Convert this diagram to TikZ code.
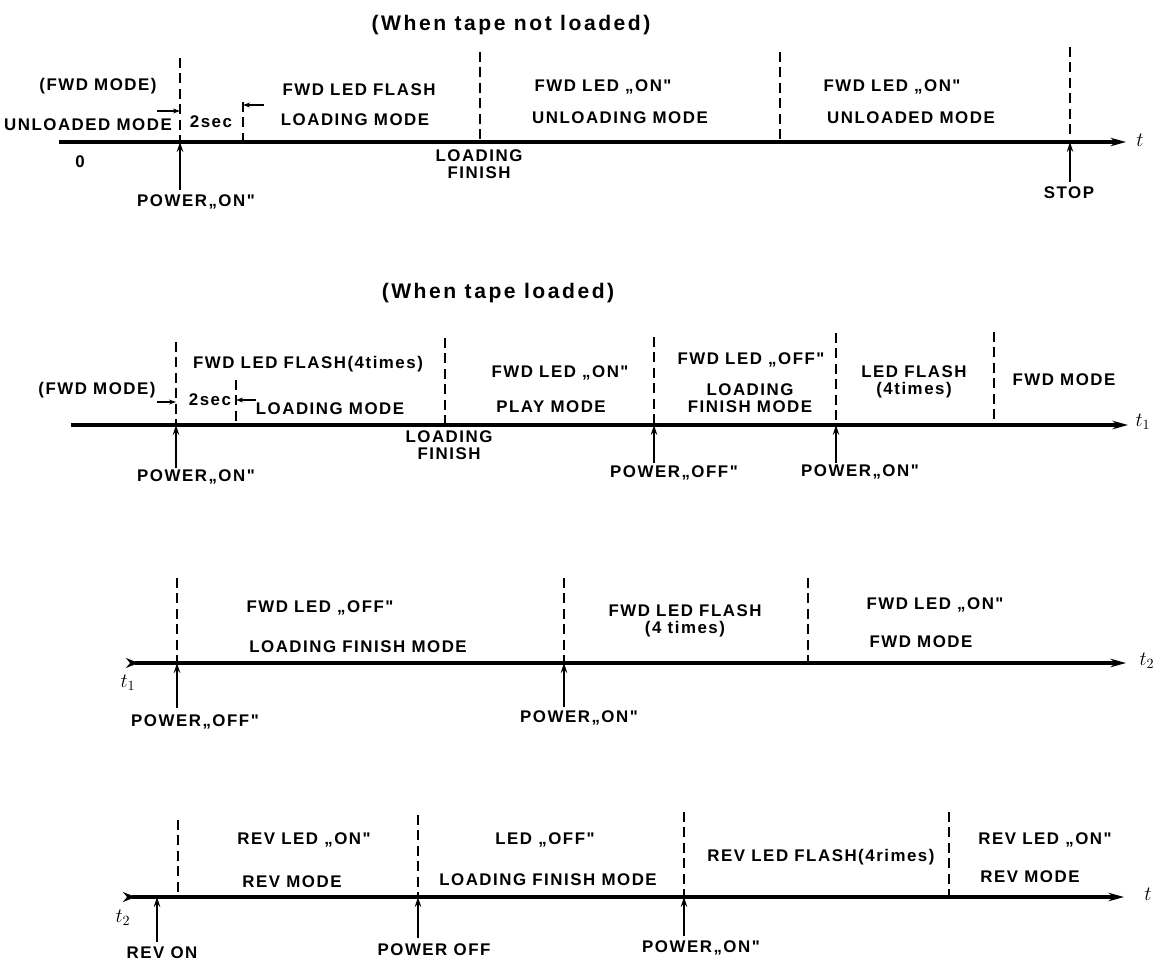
\documentclass[tikz,border=0pt]{standalone}
\usepackage{fontspec}
\setmainfont{Liberation Sans}
\newfontfamily\labelfont[LetterSpace=9]{Liberation Sans}
\newfontfamily\titlefont[LetterSpace=12]{Liberation Sans}
\usetikzlibrary{arrows.meta}

\begin{document}
\begin{tikzpicture}[x=0.025cm, y=-0.025cm,
    lbl/.style={font=\labelfont\bfseries\fontsize{12}{12.5}\selectfont, inner sep=0pt, align=center},
    ttl/.style={font=\titlefont\bfseries\fontsize{15}{16}\selectfont, inner sep=0pt},
    axlbl/.style={font=\Large, inner sep=0pt},
    timeaxis/.style={line width=2.2pt, -{Stealth[length=11pt,width=6pt]}},
    contaxis/.style={line width=2.2pt, {Stealth[length=9pt,width=7pt,reversed]}-{Stealth[length=11pt,width=6pt]}},
    bound/.style={line width=1pt, dash pattern=on 7pt off 4pt},
    event/.style={line width=1.3pt, -{Stealth[length=7pt,width=4.5pt]}},
    secarrow/.style={line width=1pt, -{Stealth[length=5pt,width=3.5pt]}},
]
\useasboundingbox (0,0) rectangle (1168,967);

% --- ROW 1: TAPE NOT LOADED ---
\node[ttl] (title1) at (511,25) {(When tape not loaded)};
\coordinate (r1s) at (59,142);
\coordinate (r1e) at (1126,142);
\draw[timeaxis] (r1s) -- (r1e);
\node[axlbl] (ax1) at (1140,140) {$t$};

\foreach \n/\x/\top in {a/180/58, b/243/102, c/480/52, d/780/52, e/1070/47}
    \draw[bound] (\x,\top) coordinate (b1\n) -- (b1\n |- r1s);

\node[lbl] (fwdm1) at (98,86) {(FWD MODE)};
\node[lbl] (unl1) at (88,125) {UNLOADED MODE};
\node[lbl] (zero1) at (80,162) {0};
\node[lbl] (sec1) at (211,122) {2sec};
\coordinate (s1l) at (157,111);
\coordinate (s1r) at (264,105);
\draw[secarrow] (s1l) -- (s1l -| b1a);
\draw[secarrow] (s1r) -- (s1r -| b1b);
\node[lbl] (flash1) at (359,90) {FWD LED FLASH};
\node[lbl] (ldm1) at (355,120) {LOADING MODE};
\node[lbl] (fin1) at (479,164) {LOADING\\FINISH};
\node[lbl] (on1a) at (603,87) {FWD LED „ON"};
\node[lbl] (unlg1) at (620,118) {UNLOADING MODE};
\node[lbl] (on1b) at (892,87) {FWD LED „ON"};
\node[lbl] (unld1) at (911,118) {UNLOADED MODE};

\node[lbl] (pwr1) at (196,202) {POWER„ON"};
\coordinate (e1a) at (180,190);
\draw[event] (e1a) -- (e1a |- r1s);
\node[lbl] (stop1) at (1069,193) {STOP};
\coordinate (e1b) at (1070,182);
\draw[event] (e1b) -- (e1b |- r1s);

% --- ROW 2: TAPE LOADED ---
\node[ttl] (title2) at (498,293) {(When tape loaded)};
\coordinate (r2s) at (71,425);
\coordinate (r2e) at (1128,425);
\draw[timeaxis] (r2s) -- (r2e);
\node[axlbl] (ax2) at (1143,422) {$t_1$};

\foreach \n/\x/\top in {a/176/342, b/236/380, c/445/338, d/654/337, e/836/333, f/994/332}
    \draw[bound] (\x,\top) coordinate (b2\n) -- (b2\n |- r2s);

\node[lbl] (flash2) at (308,364) {FWD LED FLASH(4times)};
\node[lbl] (fwdm2) at (97,390) {(FWD MODE)};
\node[lbl] (sec2) at (210,400) {2sec};
\coordinate (s2l) at (157,402);
\coordinate (s2r) at (256,400);
\draw[secarrow] (s2l) -- (s2l -| b2a);
\draw[secarrow] (s2r) -- (s2r -| b2b);
\node[lbl] (ldm2) at (330,409) {LOADING MODE};
\node[lbl] (fin2) at (449,445) {LOADING\\FINISH};
\node[lbl] (on2) at (560,373) {FWD LED „ON"};
\node[lbl] (play2) at (551,407) {PLAY MODE};
\node[lbl] (off2) at (751,360) {FWD LED „OFF"};
\node[lbl] (lfm2) at (750,398) {LOADING\\FINISH MODE};
\node[lbl] (flash2b) at (914,382) {LED FLASH\\(4times)};
\node[lbl] (fwdm2b) at (1064,380) {FWD MODE};

\node[lbl] (pwr2a) at (196,477) {POWER„ON"};
\coordinate (e2a) at (176,468);
\draw[event] (e2a) -- (e2a |- r2s);
\node[lbl] (pwr2b) at (674,473) {POWER„OFF"};
\coordinate (e2b) at (654,463);
\draw[event] (e2b) -- (e2b |- r2s);
\node[lbl] (pwr2c) at (860,472) {POWER„ON"};
\coordinate (e2c) at (836,463);
\draw[event] (e2c) -- (e2c |- r2s);

% --- ROW 3 ---
\coordinate (r3s) at (126,663);
\coordinate (r3e) at (1126,663);
\draw[contaxis] (r3s) -- (r3e);
\node[axlbl] (ax3a) at (128,683) {$t_1$};
\node[axlbl] (ax3b) at (1147,661) {$t_2$};

\foreach \n/\x/\top in {a/177/578, b/564/578, c/808/578}
    \draw[bound] (\x,\top) coordinate (b3\n) -- (b3\n |- r3s);

\node[lbl] (off3) at (320,608) {FWD LED „OFF"};
\node[lbl] (lfm3) at (358,647) {LOADING FINISH MODE};
\node[lbl] (flash3) at (685,621) {FWD LED FLASH\\(4 times)};
\node[lbl] (on3) at (935,605) {FWD LED „ON"};
\node[lbl] (fwdm3) at (921,642) {FWD MODE};

\node[lbl] (pwr3a) at (195,722) {POWER„OFF"};
\coordinate (e3a) at (177,708);
\draw[event] (e3a) -- (e3a |- r3s);
\node[lbl] (pwr3b) at (579,718) {POWER„ON"};
\coordinate (e3b) at (564,707);
\draw[event] (e3b) -- (e3b |- r3s);

% --- ROW 4 ---
\coordinate (r4s) at (123,897);
\coordinate (r4e) at (1124,897);
\draw[contaxis] (r4s) -- (r4e);
\node[axlbl] (ax4a) at (123,918) {$t_2$};
\node[axlbl] (ax4b) at (1148,894) {$t$};

\foreach \n/\x/\top in {a/178/820, b/418/815, c/684/812, d/949/812}
    \draw[bound] (\x,\top) coordinate (b4\n) -- (b4\n |- r4s);

\node[lbl] (on4) at (304,840) {REV LED „ON"};
\node[lbl] (rev4) at (292,882) {REV MODE};
\node[lbl] (off4) at (545,840) {LED „OFF"};
\node[lbl] (lfm4) at (548,880) {LOADING FINISH MODE};
\node[lbl] (flash4) at (821,857) {REV LED FLASH(4rimes)};
\node[lbl] (on4b) at (1045,840) {REV LED „ON"};
\node[lbl] (rev4b) at (1030,877) {REV MODE};

\node[lbl] (revon4) at (162,953) {REV ON};
\coordinate (e4a) at (157,942);
\draw[event] (e4a) -- (e4a |- r4s);
\node[lbl] (poff4) at (434,950) {POWER OFF};
\coordinate (e4b) at (418,938);
\draw[event] (e4b) -- (e4b |- r4s);
\node[lbl] (pon4) at (701,948) {POWER„ON"};
\coordinate (e4c) at (684,936);
\draw[event] (e4c) -- (e4c |- r4s);

\end{tikzpicture}
\end{document}
